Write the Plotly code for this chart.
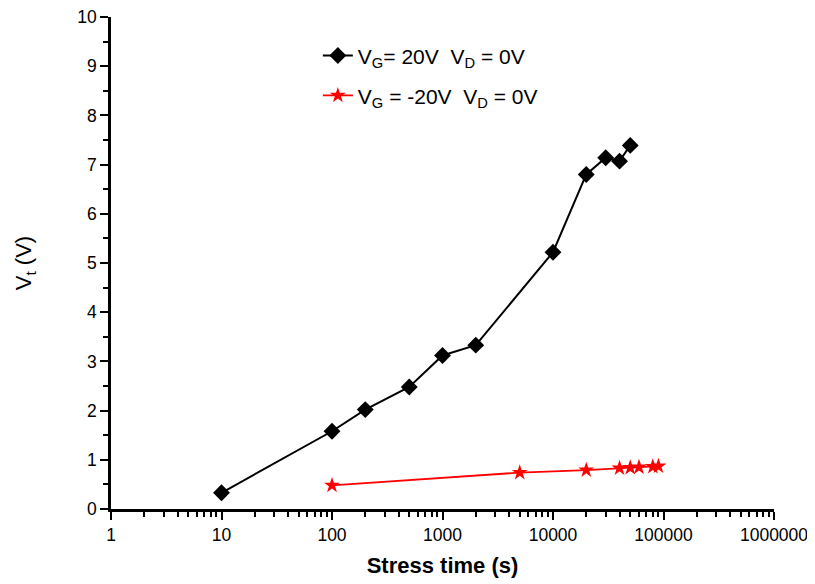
import plotly.graph_objects as go

# Data
t_pos = [10, 100, 200, 500, 1000, 2000, 10000, 20000, 30000, 40000, 50000]
vt_pos = [0.33, 1.58, 2.02, 2.48, 3.12, 3.33, 5.22, 6.80, 7.14, 7.07, 7.39]

t_neg = [100, 5000, 20000, 40000, 50000, 60000, 80000, 90000]
vt_neg = [0.48, 0.74, 0.79, 0.83, 0.84, 0.85, 0.86, 0.87]

name_pos = "V<sub>G</sub>= 20V  V<sub>D</sub> = 0V"
name_neg = "V<sub>G</sub> = -20V  V<sub>D</sub> = 0V"

FONT = "Liberation Sans, Arial, sans-serif"

fig = go.Figure()
fig.add_trace(go.Scatter(
    x=t_pos, y=vt_pos, mode="lines+markers", name=name_pos,
    line=dict(color="black", width=2),
    marker=dict(symbol="diamond", size=13, color="black"),
    legend="legend",
))
fig.add_trace(go.Scatter(
    x=t_neg, y=vt_neg, mode="lines+markers", name=name_neg,
    line=dict(color="red", width=1.8),
    marker=dict(symbol="star", size=12, color="red"),
    legend="legend2",
))

leg_common = dict(
    xanchor="left", yanchor="middle",
    bgcolor="rgba(0,0,0,0)", font=dict(size=21, family=FONT, color="black"),
    borderwidth=0,
)

# page body has an 8px margin, so the figure is sized/offset to compensate
fig.update_layout(
    width=807, height=576,
    margin=dict(l=103, r=41, t=9, b=75),
    paper_bgcolor="white", plot_bgcolor="white",
    font=dict(family=FONT, color="black", size=18),
    showlegend=True,
    legend=dict(x=0.312, y=0.921, **leg_common),
    legend2=dict(x=0.312, y=0.840, **leg_common),
    xaxis=dict(
        type="log", range=[0, 6], dtick=1, tickformat="d",
        automargin=False, ticklabeloverflow="allow",
        showgrid=False, zeroline=False,
        showline=True, linecolor="black", linewidth=2.5,
        ticks="outside", ticklen=8, tickwidth=2, tickcolor="black",
        minor=dict(ticks="outside", ticklen=5, tickwidth=2, tickcolor="black", dtick="D1", showgrid=False),
        tickfont=dict(size=17.5),
        title=dict(text="<b>Stress time (s)</b>", font=dict(size=22), standoff=14),
    ),
    yaxis=dict(
        range=[0, 10], dtick=1,
        automargin=False, ticklabeloverflow="allow",
        showgrid=False, zeroline=False,
        showline=True, linecolor="black", linewidth=2.5,
        ticks="outside", ticklen=8, tickwidth=2, tickcolor="black",
        minor=dict(ticks="outside", ticklen=5, tickwidth=2, tickcolor="black", dtick=0.5, showgrid=False),
        tickfont=dict(size=17.5),
        title=dict(text="V<sub>t</sub> (V)", font=dict(size=22), standoff=40),
    ),
)

fig.write_html("out.html")
